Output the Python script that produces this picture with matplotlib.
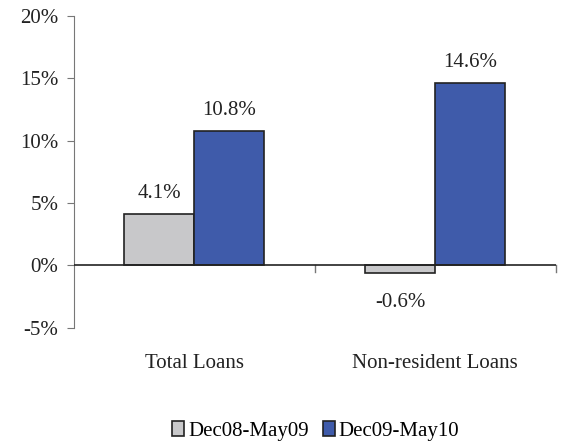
import matplotlib
matplotlib.use("Agg")
import matplotlib.pyplot as plt
import numpy as np

categories = ["Total Loans", "Non-resident Loans"]
series_names = ["Dec08-May09", "Dec09-May10"]
dec08_may09 = [4.1, -0.6]
dec09_may10 = [10.8, 14.6]
colors = ["#C8C8CA", "#3F5BAA"]

plt.rcParams['font.family'] = ['Liberation Serif', 'DejaVu Serif']
FS = 15

fig = plt.figure(figsize=(5.62, 4.43), dpi=100)
ax = fig.add_axes([0.131, 0.260, 0.858, 0.704])

x = np.arange(len(categories))
w = 0.29
for i, (vals, name, c) in enumerate(zip([dec08_may09, dec09_may10], series_names, colors)):
    pos = x + (i - 0.5) * w
    ax.bar(pos, vals, width=w, color=c, edgecolor="#222222", linewidth=1.2, label=name, zorder=3)
    for p, v in zip(pos, vals):
        if v >= 0:
            ax.annotate(f"{v:.1f}%", (p, v), xytext=(0, 8), textcoords="offset points",
                        ha="center", va="bottom", fontsize=FS, color="#222222")
        else:
            ax.annotate(f"{v:.1f}%", (p, v), xytext=(0, -14.5), textcoords="offset points",
                        ha="center", va="top", fontsize=FS, color="#222222")

ax.set_xlim(-0.5, 1.5)
ax.set_ylim(-5, 20)
ax.set_yticks([-5, 0, 5, 10, 15, 20])
ax.set_yticklabels([f"{t}%" for t in [-5, 0, 5, 10, 15, 20]], fontsize=FS, color="#222222")
for s in ["top", "right", "bottom"]:
    ax.spines[s].set_visible(False)
ax.spines["left"].set_color("#777777")
ax.tick_params(axis="y", length=5, color="#777777", pad=6)
ax.axhline(0, color="#222222", linewidth=1.2, zorder=4)
ax.set_xticks([0.5, 1.5])
ax.set_xticklabels([])
ax.tick_params(axis="x", length=0)
for xb in [0.5, 1.5]:
    ax.plot([xb, xb], [0, -0.5], color="#777777", linewidth=1, clip_on=False)
for xi, lab in zip(x, categories):
    ax.text(xi, -7.9, lab, ha="center", va="center", fontsize=FS, color="#222222")

leg = fig.legend(loc="center", bbox_to_anchor=(0.562, 0.028), ncol=2, frameon=False,
                 fontsize=FS, handlelength=0.55, handleheight=0.75, handletextpad=0.2,
                 columnspacing=0.7)
for h in leg.legend_handles:
    h.set_edgecolor("#222222")
fig.savefig("out.png", dpi=100)
